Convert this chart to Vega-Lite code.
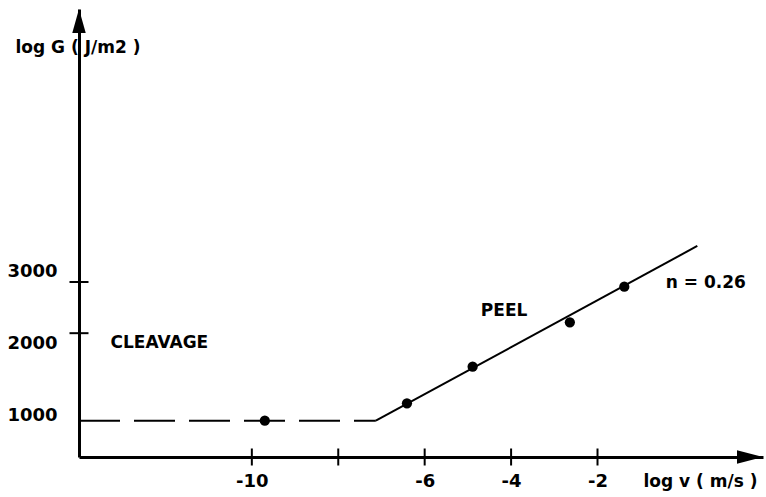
{
  "$schema": "https://vega.github.io/schema/vega-lite/v6.json",
  "width": 684,
  "height": 448,
  "autosize": {"type": "none"},
  "padding": {"left": 79, "top": 9, "right": 3, "bottom": 40},
  "background": "white",
  "config": {
    "view": {"stroke": null},
    "font": "DejaVu Sans",
    "axis": {"grid": false}
  },
  "datasets": {
    "cleavage": [
      {"v": -14, "G": 1000},
      {"v": -7.13, "G": 1000}
    ],
    "peel": [
      {"v": -7.13, "G": 1000},
      {"v": 0.31, "G": 3991}
    ],
    "points": [
      {"v": -9.7, "G": 1000},
      {"v": -6.41, "G": 1148},
      {"v": -4.89, "G": 1534},
      {"v": -2.64, "G": 2180},
      {"v": -1.38, "G": 2891}
    ],
    "xticks": [
      {"v": -10}, {"v": -8}, {"v": -6}, {"v": -4}, {"v": -2}
    ],
    "yticks": [
      {"G": 2000}, {"G": 3000}
    ],
    "labels": [
      {"label": "CLEAVAGE", "v": -13.27, "G": 1849},
      {"label": "PEEL", "v": -4.7, "G": 2388},
      {"label": "n = 0.26", "v": -0.42, "G": 2970}
    ],
    "origin": [{"v": -14, "G": 26080}],
    "xend": [{"v": 1.83, "G": 750}]
  },
  "layer": [
    {
      "data": {"name": "cleavage"},
      "mark": {"type": "line", "color": "black", "strokeWidth": 2, "strokeDash": [41, 14]},
      "encoding": {
        "x": {
          "field": "v",
          "type": "quantitative",
          "scale": {"domain": [-14, 1.83], "nice": false, "zero": false},
          "axis": {
            "values": [-10, -6, -4, -2],
            "ticks": false,
            "tickSize": 0,
            "labelPadding": 15,
            "labelFont": "DejaVu Sans",
            "labelFontSize": 18,
            "labelFontWeight": "bold",
            "labelColor": "black",
            "labelExpr": "'' + datum.value",
            "labelFlush": false,
            "labelOverlap": false,
            "domainColor": "black",
            "domainWidth": 3,
            "title": "log v ( m/s )",
            "titleFont": "DejaVu Sans",
            "titleFontSize": 17,
            "titleFontWeight": "bold",
            "titleColor": "black",
            "titleX": 564,
            "titleY": 24,
            "titleAlign": "left",
            "titleBaseline": "middle",
            "titleAnchor": null
          }
        },
        "y": {
          "field": "G",
          "type": "quantitative",
          "scale": {"type": "log", "domain": [750, 26080], "nice": false},
          "axis": {
            "values": [1000, 2000, 3000],
            "ticks": false,
            "tickSize": 0,
            "labelPadding": 22,
            "labelFont": "DejaVu Sans",
            "labelFontSize": 18,
            "labelFontWeight": "bold",
            "labelColor": "black",
            "labelExpr": "'' + datum.value",
            "labelFlush": false,
            "labelOverlap": false,
            "labelOffset": {
              "condition": [
                {"test": "datum.value === 2000", "value": 10},
                {"test": "datum.value === 3000", "value": -10}
              ],
              "value": -5
            },
            "domainColor": "black",
            "domainWidth": 3,
            "title": "log G  ( J/m2 )",
            "titleFont": "DejaVu Sans",
            "titleFontSize": 17,
            "titleFontWeight": "bold",
            "titleColor": "black",
            "titleAngle": 0,
            "titleX": -64,
            "titleY": 38,
            "titleAlign": "left",
            "titleBaseline": "middle",
            "titleAnchor": null
          }
        }
      }
    },
    {
      "data": {"name": "peel"},
      "mark": {"type": "line", "color": "black", "strokeWidth": 2},
      "encoding": {
        "x": {"field": "v", "type": "quantitative"},
        "y": {"field": "G", "type": "quantitative"}
      }
    },
    {
      "data": {"name": "points"},
      "mark": {"type": "point", "filled": true, "color": "black", "opacity": 1, "size": 105},
      "encoding": {
        "x": {"field": "v", "type": "quantitative"},
        "y": {"field": "G", "type": "quantitative"}
      }
    },
    {
      "data": {"name": "xticks"},
      "mark": {"type": "tick", "orient": "vertical", "size": 17, "thickness": 2, "color": "black", "opacity": 1},
      "encoding": {
        "x": {"field": "v", "type": "quantitative"},
        "y": {"datum": 750, "type": "quantitative"}
      }
    },
    {
      "data": {"name": "yticks"},
      "mark": {"type": "tick", "orient": "horizontal", "size": 19, "thickness": 2, "color": "black", "opacity": 1},
      "encoding": {
        "y": {"field": "G", "type": "quantitative"},
        "x": {"datum": -14, "type": "quantitative"}
      }
    },
    {
      "data": {"name": "labels"},
      "mark": {"type": "text", "align": "left", "baseline": "middle", "fontSize": 17, "fontWeight": "bold", "color": "black", "font": "DejaVu Sans"},
      "encoding": {
        "x": {"field": "v", "type": "quantitative"},
        "y": {"field": "G", "type": "quantitative"},
        "text": {"field": "label"}
      }
    },
    {
      "data": {"name": "origin"},
      "mark": {"type": "point", "shape": "M0,0L-0.28,1L0.28,1Z", "size": 2304, "filled": true, "color": "black", "opacity": 1, "strokeWidth": 0},
      "encoding": {
        "x": {"field": "v", "type": "quantitative"},
        "y": {"field": "G", "type": "quantitative"}
      }
    },
    {
      "data": {"name": "xend"},
      "mark": {"type": "point", "shape": "M0,0L-1,-0.26L-1,0.26Z", "size": 2704, "filled": true, "color": "black", "opacity": 1, "strokeWidth": 0},
      "encoding": {
        "x": {"field": "v", "type": "quantitative"},
        "y": {"field": "G", "type": "quantitative"}
      }
    }
  ]
}
